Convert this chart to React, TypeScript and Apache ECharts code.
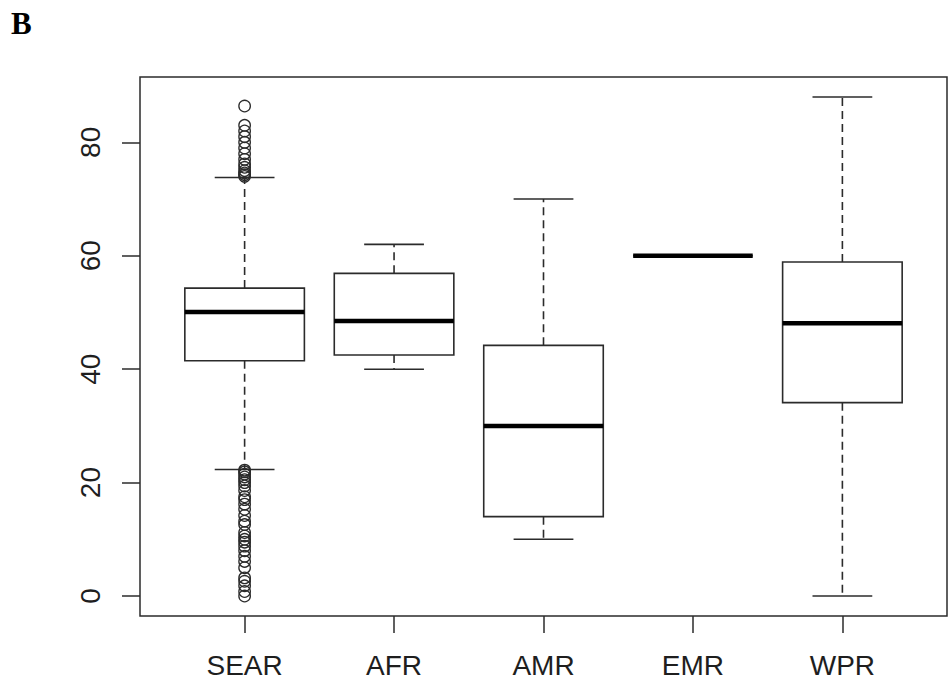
import React, { useEffect, useRef } from "react";
import * as echarts from "echarts";

const regions = ["SEAR", "AFR", "AMR", "EMR", "WPR"];
// [lower whisker, Q1, median, Q3, upper whisker]
const lowerWhisker = [22.3, 40, 10, 60, 0];
const q1 = [41.5, 42.5, 14, 60, 34.1];
const median = [50.1, 48.5, 30, 60, 48.1];
const q3 = [54.3, 56.9, 44.2, 60, 58.9];
const upperWhisker = [73.8, 62, 70, 60, 88];
const searOutliers = [
  86.4, 83, 82, 81, 80, 79, 78, 77, 76.2, 75.6, 75, 74.6, 74.3, 74,
  22.2, 21.9, 21.5, 21, 20.5, 20, 19.4, 18.6, 17.5, 17, 16.2, 15.3, 14.2, 13.2,
  12.6, 11.2, 10.6, 10, 9.5, 8.8, 8, 7, 6.1, 5, 3.2, 2.6, 1.8, 0.8, 0,
];
const yTicks = [0, 20, 40, 60, 80];
const xTicks = [1, 2, 3, 4, 5];

const BOX_HALF = 0.4;
const CAP_HALF = 0.2;
const INK = "#2b2b2b";

export default function App() {
  const ref = useRef<HTMLDivElement>(null);
  useEffect(() => {
    if (!ref.current) return;
    const chart = echarts.init(ref.current, null, { renderer: "svg" });
    const boxData = regions.map((_, i) => [
      i + 1,
      lowerWhisker[i],
      q1[i],
      median[i],
      q3[i],
      upperWhisker[i],
    ]);
    const outlierData = searOutliers.map((v) => [1, v]);
    const labelFont = {
      fontFamily: "Liberation Sans, Arial, sans-serif",
      fontSize: 28,
      color: "#1e1e1e",
    };
    chart.setOption({
      animation: false,
      backgroundColor: "#ffffff",
      grid: {
        left: 140,
        top: 77,
        width: 807,
        height: 539,
        show: true,
        borderColor: INK,
        borderWidth: 1.5,
        backgroundColor: "transparent",
      },
      xAxis: {
        type: "value",
        min: 0.3,
        max: 5.7,
        position: "bottom",
        axisLine: { show: false, onZero: false },
        splitLine: { show: false },
        axisTick: {
          show: true,
          length: 17,
          customValues: xTicks,
          lineStyle: { color: INK, width: 1.5 },
        },
        axisLabel: {
          customValues: xTicks,
          margin: 35,
          formatter: (v: number) => regions[Math.round(v) - 1] ?? "",
          ...labelFont,
        },
      },
      yAxis: {
        type: "value",
        min: -3.52,
        max: 91.52,
        position: "left",
        axisLine: { show: false, onZero: false },
        splitLine: { show: false },
        axisTick: {
          show: true,
          length: 18,
          customValues: yTicks,
          lineStyle: { color: INK, width: 1.5 },
        },
        axisLabel: {
          customValues: yTicks,
          rotate: 90,
          margin: 36,
          ...labelFont,
        },
      },
      graphic: [
        {
          type: "text",
          left: 11,
          top: 8,
          style: {
            text: "B",
            fontFamily: "Liberation Serif, Times New Roman, serif",
            fontWeight: "bold",
            fontSize: 31,
            fill: "#000",
          },
        },
      ],
      series: [
        {
          type: "custom",
          data: boxData,
          encode: { x: 0, y: [1, 2, 3, 4, 5] },
          renderItem: (params: any, api: any) => {
            const x = api.value(0);
            const lo = api.value(1);
            const b1 = api.value(2);
            const md = api.value(3);
            const b3 = api.value(4);
            const hi = api.value(5);
            const unit = api.size([1, 0])[0];
            const hw = unit * BOX_HALF;
            const cw = unit * CAP_HALF;
            const cx = api.coord([x, md])[0];
            const yLo = api.coord([x, lo])[1];
            const yQ1 = api.coord([x, b1])[1];
            const yMd = api.coord([x, md])[1];
            const yQ3 = api.coord([x, b3])[1];
            const yHi = api.coord([x, hi])[1];
            const children: any[] = [];
            if (hi > b3) {
              children.push({
                type: "line",
                shape: { x1: cx, y1: yQ3, x2: cx, y2: yHi },
                style: { stroke: INK, lineWidth: 1.6, lineDash: [8, 5] },
              });
              children.push({
                type: "line",
                shape: { x1: cx - cw, y1: yHi, x2: cx + cw, y2: yHi },
                style: { stroke: INK, lineWidth: 1.6 },
              });
            }
            if (lo < b1) {
              children.push({
                type: "line",
                shape: { x1: cx, y1: yQ1, x2: cx, y2: yLo },
                style: { stroke: INK, lineWidth: 1.6, lineDash: [8, 5] },
              });
              children.push({
                type: "line",
                shape: { x1: cx - cw, y1: yLo, x2: cx + cw, y2: yLo },
                style: { stroke: INK, lineWidth: 1.6 },
              });
            }
            children.push({
              type: "rect",
              shape: { x: cx - hw, y: yQ3, width: 2 * hw, height: yQ1 - yQ3 },
              style: { fill: "#ffffff", stroke: INK, lineWidth: 1.6 },
            });
            children.push({
              type: "line",
              shape: { x1: cx - hw, y1: yMd, x2: cx + hw, y2: yMd },
              style: { stroke: "#000", lineWidth: 4.5 },
            });
            return { type: "group", children };
          },
          z: 2,
        },
        {
          type: "scatter",
          data: outlierData,
          symbol: "circle",
          symbolSize: 11.5,
          itemStyle: { color: "transparent", borderColor: INK, borderWidth: 1.3, opacity: 1 },
          z: 3,
        },
      ],
    });
    return () => chart.dispose();
  }, []);
  return (
    <div
      ref={ref}
      style={{ position: "fixed", left: 0, top: 0, width: 948, height: 692, background: "#fff" }}
    />
  );
}
